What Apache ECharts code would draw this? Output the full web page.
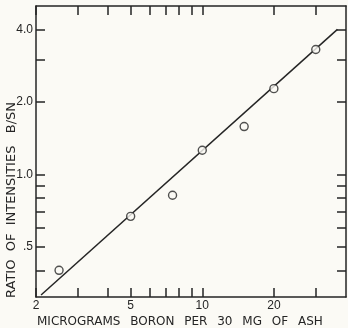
<!DOCTYPE html>
<html>
<head>
<meta charset="utf-8">
<script src="https://cdn.jsdelivr.net/npm/echarts@6/dist/echarts.min.js"></script>
<style>
  html, body { margin: 0; padding: 0; background: #fbfaf5; }
  #chart { width: 348px; height: 328px; }
</style>
</head>
<body>
<div id="chart"></div>
<script>
// boron calibration, log-log
const micrograms = [2.5, 5, 7.5, 10, 15, 20, 30];
const ratio = [0.40, 0.67, 0.82, 1.26, 1.58, 2.27, 3.3];
const fitX = [2.1, 37];
const fitY = [0.316, 4.0];

const xTicks = [2, 3, 4, 5, 6, 7, 8, 9, 10, 20, 30];
const xLabels = [2, 5, 10, 20];
const yTicks = [0.4, 0.5, 0.6, 0.7, 0.8, 0.9, 1.0, 2.0, 3.0, 4.0];
const yLabels = [0.5, 1.0, 2.0, 4.0];

const ink = '#252525';
const gap = '\u2002 ';

const axisBase = (pos, ticks, labels, fmt) => ({
  type: 'log',
  position: pos,
  axisLine: { show: true, lineStyle: { color: ink, width: 1.5 } },
  axisTick: { show: true, inside: true, length: 9, customValues: ticks,
    lineStyle: { color: ink, width: 1.5 } },
  axisLabel: labels ? { show: true, customValues: labels, formatter: fmt,
    color: ink, fontFamily: 'Liberation Sans', fontSize: 12, margin: 3 } : { show: false },
  splitLine: { show: false },
  minorTick: { show: false },
});

const fmtX = v => String(Math.round(v));
const fmtY = v => (v < 1 ? '.' + Math.round(v * 10) : v.toFixed(1));

const chart = echarts.init(document.getElementById('chart'));
chart.setOption({
  backgroundColor: '#fbfaf5',
  animation: false,
  grid: { left: 36, right: 2, top: 6, bottom: 31 },
  xAxis: [
    Object.assign(axisBase('bottom', xTicks, xLabels, fmtX), { min: 2, max: 40.2 }),
    Object.assign(axisBase('top', xTicks, null), { min: 2, max: 40.2 }),
  ],
  yAxis: [
    Object.assign(axisBase('left', yTicks, yLabels, fmtY), { min: 0.31, max: 5.0 }),
    Object.assign(axisBase('right', yTicks, null), { min: 0.31, max: 5.0 }),
  ],
  graphic: [
    {
      type: 'text', left: 37, top: 316,
      style: { text: ['MICROGRAMS', 'BORON', 'PER', '30', 'MG', 'OF', 'ASH'].join(gap),
        fill: ink, font: '12px "DejaVu Sans"' },
    },
    {
      type: 'text', x: 5, y: 298, rotation: Math.PI / 2,
      style: { text: 'RATIO  OF  INTENSITIES   B/SN', fill: ink,
        font: '13px "DejaVu Sans"' },
    },
  ],
  series: [
    {
      type: 'line',
      data: fitX.map((x, i) => [x, fitY[i]]),
      symbol: 'none',
      lineStyle: { color: ink, width: 1.5 },
      z: 2,
    },
    {
      type: 'scatter',
      data: micrograms.map((x, i) => [x, ratio[i]]),
      symbol: 'circle',
      symbolSize: 8,
      itemStyle: { color: '#fbfaf5', borderColor: ink, borderWidth: 1.4 },
      z: 3,
    },
  ],
});
</script>
</body>
</html>
